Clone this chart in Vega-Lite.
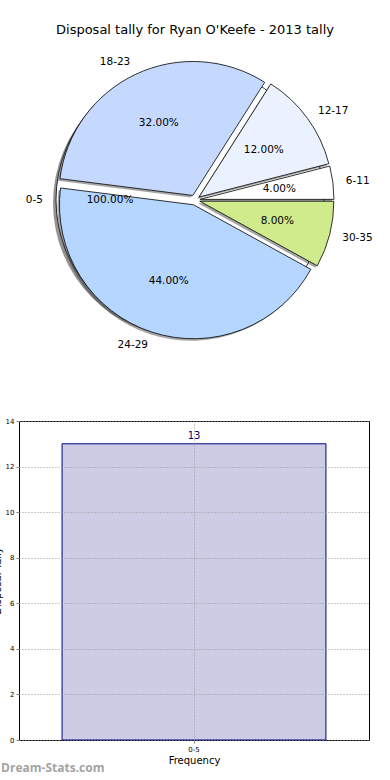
{
  "$schema": "https://vega.github.io/schema/vega-lite/v6.json",
  "padding": {"left": -9, "top": 24, "right": 0, "bottom": 0},
  "background": "white",
  "config": {
    "font": "DejaVu Sans",
    "view": {"stroke": null},
    "axis": {"labelFont": "DejaVu Sans", "titleFont": "DejaVu Sans", "titleFontWeight": "normal", "labelColor": "black", "titleColor": "black"}
  },
  "datasets": {
    "pie": [
      {"range": "6-11", "pct": 4, "idx": 1, "label": "4.00%"},
      {"range": "12-17", "pct": 12, "idx": 2, "label": "12.00%"},
      {"range": "18-23", "pct": 32, "idx": 3, "label": "32.00%"},
      {"range": "24-29", "pct": 44, "idx": 4, "label": "44.00%"},
      {"range": "30-35", "pct": 8, "idx": 5, "label": "8.00%"}
    ],
    "full": [{"range": "0-5", "pct": 100, "idx": 0, "label": "100.00%"}],
    "bars": [{"bin": "0-5", "freq": 13}]
  },
  "spacing": 63,
  "vconcat": [
    {
      "width": 352,
      "height": 306,
      "title": {"text": "Disposal tally for Ryan O'Keefe - 2013 tally", "fontSize": 13, "fontWeight": "normal", "font": "DejaVu Sans", "offset": 10},
      "encoding": {
        "theta": {"field": "pct", "type": "quantitative", "stack": true, "scale": {"domain": [0, 100], "range": [1.5708, -4.7124]}},
        "order": {"field": "idx", "type": "quantitative"}
      },
      "layer": [
        {"data": {"name": "full"}, "mark": {"type": "arc", "radius": 134, "fill": "#3a3a3a", "opacity": 0.55, "xOffset": -8, "yOffset": 3}},
        {"data": {"name": "full"}, "mark": {"type": "arc", "radius": 134, "fill": "white", "stroke": "black", "strokeWidth": 0.8, "xOffset": -5, "yOffset": 0}},
        {"data": {"name": "pie"}, "mark": {"type": "arc", "radius": 134, "fill": "#3a3a3a", "opacity": 0.45,
          "xOffset": {"expr": "5*cos(PI*(datum.pct_start+datum.pct_end)/100)-2"},
          "yOffset": {"expr": "-5*sin(PI*(datum.pct_start+datum.pct_end)/100)+2"}}},
        {"data": {"name": "pie"}, "mark": {"type": "arc", "radius": 134, "stroke": "black", "strokeWidth": 0.8,
          "xOffset": {"expr": "5*cos(PI*(datum.pct_start+datum.pct_end)/100)"},
          "yOffset": {"expr": "-5*sin(PI*(datum.pct_start+datum.pct_end)/100)"}},
          "encoding": {"color": {"field": "range", "type": "nominal", "legend": null,
            "scale": {"domain": ["6-11", "12-17", "18-23", "24-29", "30-35"], "range": ["#ffffff", "#eaf1ff", "#c5d9ff", "#b5d6ff", "#d0eb8c"]}},
            "opacity": {"value": 1}}},
        {"data": {"name": "full"}, "mark": {"type": "text", "radius": 147, "fontSize": 10.5, "font": "DejaVu Sans",
          "align": {"expr": "cos(PI*(datum.pct_start+datum.pct_end)/100) >= 0 ? 'left' : 'right'"},
          "xOffset": {"expr": "5*cos(PI*(datum.pct_start+datum.pct_end)/100)"},
          "yOffset": {"expr": "-5*sin(PI*(datum.pct_start+datum.pct_end)/100)"}},
          "encoding": {"text": {"field": "range"}}},
        {"data": {"name": "full"}, "mark": {"type": "text", "radius": 80, "fontSize": 10.5, "font": "DejaVu Sans",
          "xOffset": {"expr": "5*cos(PI*(datum.pct_start+datum.pct_end)/100)"},
          "yOffset": {"expr": "-5*sin(PI*(datum.pct_start+datum.pct_end)/100)"}},
          "encoding": {"text": {"field": "label"}}},
        {"data": {"name": "pie"}, "mark": {"type": "text", "radius": 147, "fontSize": 10.5, "font": "DejaVu Sans",
          "align": {"expr": "cos(PI*(datum.pct_start+datum.pct_end)/100) >= 0 ? 'left' : 'right'"},
          "xOffset": {"expr": "5*cos(PI*(datum.pct_start+datum.pct_end)/100)"},
          "yOffset": {"expr": "-5*sin(PI*(datum.pct_start+datum.pct_end)/100)"}},
          "encoding": {"text": {"field": "range"}}},
        {"data": {"name": "pie"}, "mark": {"type": "text", "radius": 80, "fontSize": 10.5, "font": "DejaVu Sans",
          "xOffset": {"expr": "5*cos(PI*(datum.pct_start+datum.pct_end)/100)"},
          "yOffset": {"expr": "-5*sin(PI*(datum.pct_start+datum.pct_end)/100)"}},
          "encoding": {"text": {"field": "label"}}}
      ]
    },
    {
      "width": 350,
      "height": 319,
      "data": {"name": "bars"},
      "view": {"stroke": "black", "strokeWidth": 1},
      "title": {"text": "Dream-Stats.com", "orient": "bottom", "anchor": "start", "frame": "bounds", "fontSize": 12, "fontWeight": "bold", "font": "Open Sans", "color": "#a3a3a3", "offset": -2, "dx": 9},
      "encoding": {
        "x": {"field": "bin", "type": "nominal", "scale": {"paddingInner": 0, "paddingOuter": 0},
          "axis": {"title": "Frequency", "titleFontSize": 10, "titlePadding": 3, "labelFontSize": 7, "labelAngle": 0, "bandPosition": 0.5,
            "grid": true, "gridDash": [1, 2], "gridColor": "#999", "domain": false, "tickSize": 3, "tickColor": "#888", "labelPadding": 2, "zindex": 1}},
        "y": {"field": "freq", "type": "quantitative", "scale": {"domain": [0, 14], "nice": false},
          "axis": {"title": "Disposal Tally", "titleFontSize": 10, "titlePadding": 3, "labelFontSize": 7, "values": [0, 2, 4, 6, 8, 10, 12, 14],
            "grid": true, "gridDash": [1, 2], "gridColor": "#999", "domain": false, "tickSize": 3, "tickColor": "#888", "labelPadding": 2, "zindex": 1}}
      },
      "layer": [
        {"mark": {"type": "bar", "width": {"band": 0.754}, "fill": "#ccccE5", "stroke": "#000080", "strokeWidth": 1}},
        {"mark": {"type": "text", "dy": -8, "fontSize": 10, "color": "#000080", "font": "DejaVu Sans"}, "encoding": {"text": {"field": "freq", "type": "quantitative"}}}
      ]
    }
  ]
}
